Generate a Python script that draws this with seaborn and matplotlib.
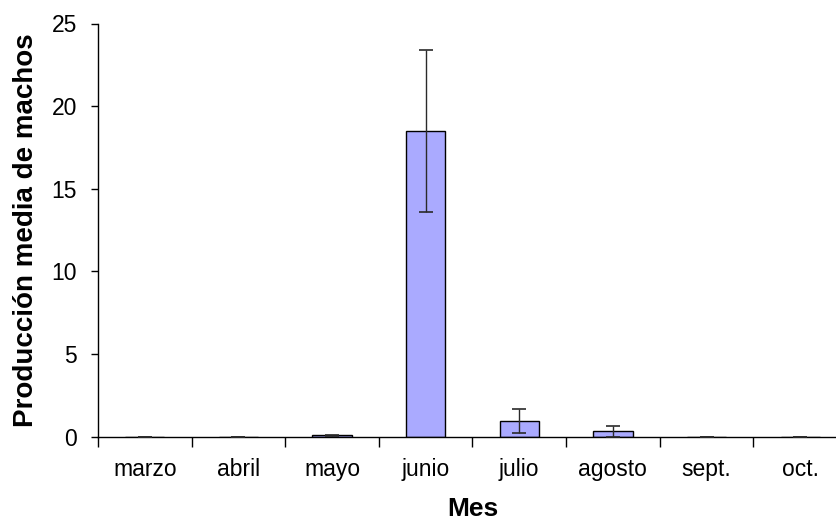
import matplotlib
matplotlib.use("Agg")
import matplotlib.pyplot as plt
import seaborn as sns
import pandas as pd
from matplotlib.ticker import FixedLocator, NullFormatter

# Monthly mean male production with standard error
meses = ["marzo", "abril", "mayo", "junio", "julio", "agosto", "sept.", "oct."]
media = [0.0, 0.0, 0.08, 18.5, 0.95, 0.33, 0.0, 0.0]
error = [0.0, 0.0, 0.04, 4.9, 0.75, 0.34, 0.0, 0.0]
yticks = [0, 5, 10, 15, 20, 25]

df = pd.DataFrame({"Mes": meses, "media": media, "error": error})

sns.set_theme(style="white")
plt.rcParams["font.family"] = ["Liberation Sans", "DejaVu Sans"]

W, H = 837, 524
fig = plt.figure(figsize=(W / 100, H / 100), dpi=100)
left, right, top, bottom = 98, 847, 23.5, 436.7
ax = fig.add_axes([left / W, 1 - bottom / H, (right - left) / W, (bottom - top) / H])

sns.barplot(data=df, x="Mes", y="media", color="#AAAAFF", saturation=1,
            edgecolor="black", linewidth=1.0, width=0.42, errorbar=None, ax=ax)
ax.errorbar(x=range(len(meses)), y=df["media"], yerr=df["error"], fmt="none",
            ecolor="#2a2a2a", elinewidth=1.0, capsize=5, capthick=1.2, zorder=5)

ax.set_xlim(-0.5, len(meses) - 0.5)
ax.set_ylim(0, 25)
ax.set_yticks(yticks)
ax.set_yticklabels([str(v) for v in yticks])

# Category boundaries carry the tick marks; labels sit at the centres
ax.xaxis.set_minor_locator(FixedLocator([i - 0.5 for i in range(len(meses) + 1)]))
ax.xaxis.set_minor_formatter(NullFormatter())
ax.tick_params(axis="x", which="major", length=0, pad=15, labelsize=16.5, labelcolor="black")
ax.tick_params(axis="x", which="minor", bottom=True, length=7, width=1, color="black", direction="out")
ax.tick_params(axis="y", which="major", left=True, length=5, width=1, color="black",
               direction="out", pad=10, labelsize=16.5, labelcolor="black")

for s in ["top", "right"]:
    ax.spines[s].set_visible(False)
for s in ["left", "bottom"]:
    ax.spines[s].set_color("black")
    ax.spines[s].set_linewidth(1.0)

ax.set_xlabel("Mes", fontsize=19, fontweight="bold", labelpad=12, color="black")
ax.set_ylabel("Producción media de machos", fontsize=20, fontweight="bold", labelpad=9, color="black")
ax.grid(False)

fig.savefig("out.png", dpi=100)
